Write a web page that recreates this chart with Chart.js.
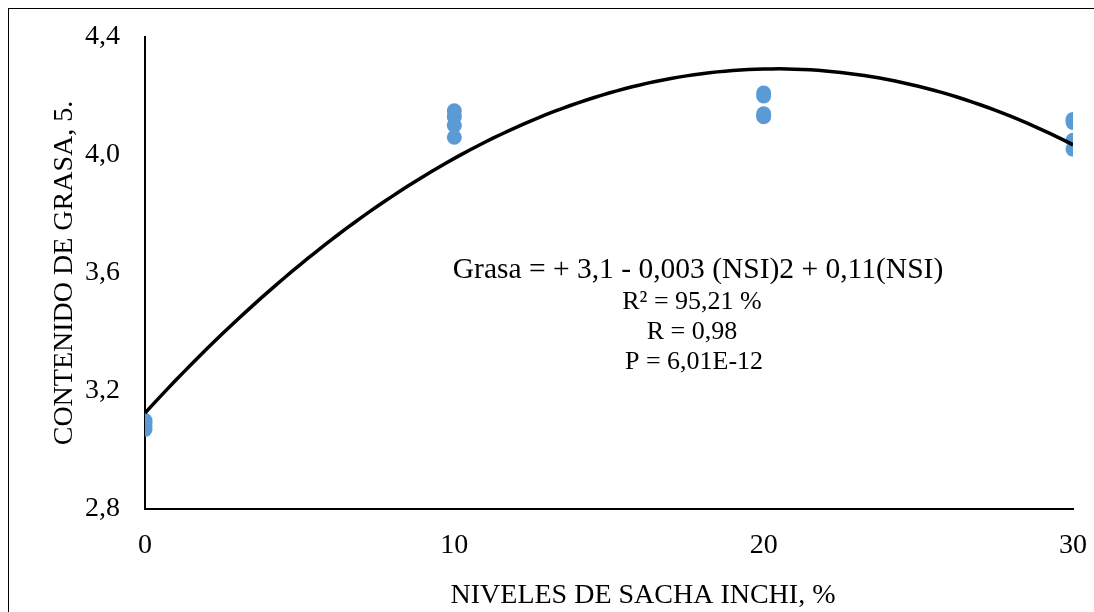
<!DOCTYPE html>
<html>
<head>
<meta charset="utf-8">
<script src="https://cdn.jsdelivr.net/npm/chart.js@4/dist/chart.umd.min.js"></script>
<style>
  body { margin: 0; background: #fff; }
  #frame { position: absolute; left: 8px; top: 8px; width: 2000px; height: 2000px;
           border-left: 1.5px solid #000; border-top: 1.5px solid #000; }
  #wrap { position: absolute; left: 0; top: 0; }
</style>
</head>
<body>
<div id="frame"></div>
<div id="wrap"><canvas id="myChart" width="1094" height="612"></canvas></div>
<script>
const nivelesSacha = [0, 0, 0, 0, 10, 10, 10, 10, 20, 20, 20, 20, 30, 30, 30, 30];
const grasa = [3.07, 3.08, 3.09, 3.10, 4.15, 4.13, 4.10, 4.06, 4.21, 4.20, 4.14, 4.13, 4.12, 4.11, 4.05, 4.02];

const yTickLabels = ["2,8", "3,2", "3,6", "4,0", "4,4"];
const xTickLabels = ["0", "10", "20", "30"];

const ecuacion = [
  "Grasa = + 3,1 - 0,003 (NSI)2 + 0,11(NSI)",
  "R² = 95,21 %",
  "R = 0,98",
  "P = 6,01E-12",
];

const FONT = "'Liberation Serif', 'Times New Roman', serif";

// polynomial (order 2) trendline, least squares over the observed points
const fitQuadratic = (xs, ys) => {
  let s = [0, 0, 0, 0, 0], t = [0, 0, 0];
  xs.forEach((x, i) => {
    for (let k = 0; k < 5; k++) s[k] += Math.pow(x, k);
    for (let k = 0; k < 3; k++) t[k] += ys[i] * Math.pow(x, k);
  });
  const m = [
    [s[0], s[1], s[2], t[0]],
    [s[1], s[2], s[3], t[1]],
    [s[2], s[3], s[4], t[2]],
  ];
  for (let i = 0; i < 3; i++) {
    for (let j = i + 1; j < 3; j++) {
      const f = m[j][i] / m[i][i];
      for (let k = i; k < 4; k++) m[j][k] -= f * m[i][k];
    }
  }
  const c = [0, 0, 0];
  for (let i = 2; i >= 0; i--) {
    let v = m[i][3];
    for (let k = i + 1; k < 3; k++) v -= m[i][k] * c[k];
    c[i] = v / m[i][i];
  }
  return c;
};

const coef = fitQuadratic(nivelesSacha, grasa);
const tendencia = [];
for (let x = 0; x <= 30; x += 0.25) {
  tendencia.push({ x: x, y: coef[0] + coef[1] * x + coef[2] * x * x });
}

// drop the label overflow padding, the layout padding places the plot
const noOverflow = (scale) => {
  scale.paddingTop = 0;
  scale.paddingBottom = 0;
  scale.paddingLeft = 0;
  scale.paddingRight = 0;
};

const textos = {
  id: "textos",
  afterDraw(chart) {
    const ctx = chart.ctx;
    ctx.save();
    ctx.fillStyle = "#000";
    ctx.textBaseline = "alphabetic";
    ctx.textAlign = "center";
    ctx.font = "28px " + FONT;
    ctx.fillText("NIVELES DE SACHA INCHI, %", 643, 603);
    ctx.font = "29.5px " + FONT;
    ctx.fillText(ecuacion[0], 698, 278);
    ctx.font = "26px " + FONT;
    ctx.fillText(ecuacion[1], 692, 309);
    ctx.fillText(ecuacion[2], 692, 339);
    ctx.fillText(ecuacion[3], 694, 369);
    ctx.restore();
  },
};

const initChartjs = () => {
  var ctx = document.querySelector("#myChart");

  var chart = new Chart(ctx, {
    type: "scatter",
    data: {
      datasets: [
        {
          type: "line",
          data: tendencia,
          borderColor: "#000",
          borderWidth: 3.5,
          pointRadius: 0,
          fill: false,
        },
        {
          data: nivelesSacha.map((x, i) => ({ x: x, y: grasa[i] })),
          backgroundColor: "#5b9bd5",
          borderWidth: 0,
          pointRadius: 7.5,
        },
      ],
    },
    options: {
      responsive: false,
      animation: false,
      layout: { padding: { top: 37, right: 21, left: 0, bottom: 0 } },
      plugins: { legend: { display: false }, tooltip: { enabled: false } },
      scales: {
        x: {
          type: "linear",
          min: 0,
          max: 30,
          grid: { display: false, drawTicks: false },
          border: { display: true, color: "#000", width: 2 },
          ticks: {
            stepSize: 10,
            padding: 20,
            color: "#000",
            font: { family: FONT, size: 28 },
            callback: (v) => xTickLabels[v / 10],
          },
          afterFit: (scale) => {
            scale.height = 103;
            noOverflow(scale);
          },
        },
        y: {
          min: 2.8,
          max: 4.4,
          grid: { display: false, drawTicks: false },
          border: { display: true, color: "#000", width: 2 },
          ticks: {
            stepSize: 0.4,
            padding: 25,
            color: "#000",
            font: { family: FONT, size: 28 },
            callback: (v) => yTickLabels[Math.round((v - 2.8) / 0.4)],
          },
          title: {
            display: true,
            text: "CONTENIDO DE GRASA, 5.",
            color: "#000",
            font: { family: FONT, size: 28 },
            padding: { top: 48, bottom: 0 },
          },
          afterFit: (scale) => {
            scale.width = 145;
            noOverflow(scale);
          },
        },
      },
    },
    plugins: [textos],
  });
};

initChartjs();
</script>
</body>
</html>
